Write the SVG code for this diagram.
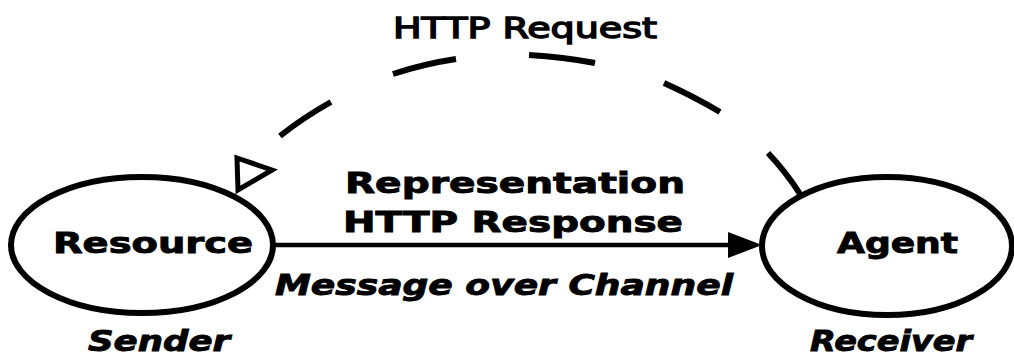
<svg xmlns="http://www.w3.org/2000/svg" width="1014" height="359" viewBox="0 0 1014 359">
<style>
.node{fill:#fff;stroke:#000;stroke-width:6}
.t{font-family:"DejaVu Sans","Liberation Sans",sans-serif;font-size:28px;fill:#000;stroke:#000;stroke-width:0.9}
.b{font-weight:bold}
.i{font-style:italic}
.dash{fill:none;stroke:#000;stroke-width:6}
.line{fill:none;stroke:#000;stroke-width:4.5}
</style>
<rect width="1014" height="359" fill="#fff"/>
<g id="connectors">
<path class="dash" d="M280 136 Q304 117 331 102 M393 74 Q423 64 456 59 M529 55 Q563 57 595 63 M664 83 Q693 96 720 112 M768 153 Q786 172 800 194"/>
<polygon points="237,158 272,170 238,190" fill="#fff" stroke="#000" stroke-width="5"/>
<line class="line" x1="274" y1="245" x2="732" y2="245"/>
<polygon points="728,232 762,245 728,258" fill="#000"/>
</g>
<g id="resource">
<ellipse class="node" cx="142" cy="245" rx="131" ry="68"/>
<text class="t b" x="53" y="253" textLength="200" lengthAdjust="spacingAndGlyphs">Resource</text>
</g>
<g id="agent">
<ellipse class="node" cx="887" cy="246" rx="125" ry="69"/>
<text class="t b" x="837" y="253" textLength="121" lengthAdjust="spacingAndGlyphs">Agent</text>
</g>
<g id="labels">
<text class="t" x="393" y="38" textLength="264" lengthAdjust="spacingAndGlyphs" style="stroke-width:1.4">HTTP Request</text>
<text class="t b" x="345" y="193" textLength="340" lengthAdjust="spacingAndGlyphs">Representation</text>
<text class="t b" x="343" y="232" textLength="340" lengthAdjust="spacingAndGlyphs">HTTP Response</text>
<text class="t b i" x="275" y="295" textLength="458" lengthAdjust="spacingAndGlyphs">Message over Channel</text>
<text class="t b i" x="88" y="351" textLength="142" lengthAdjust="spacingAndGlyphs">Sender</text>
<text class="t b i" x="810" y="351" textLength="162" lengthAdjust="spacingAndGlyphs">Receiver</text>
</g>
</svg>
